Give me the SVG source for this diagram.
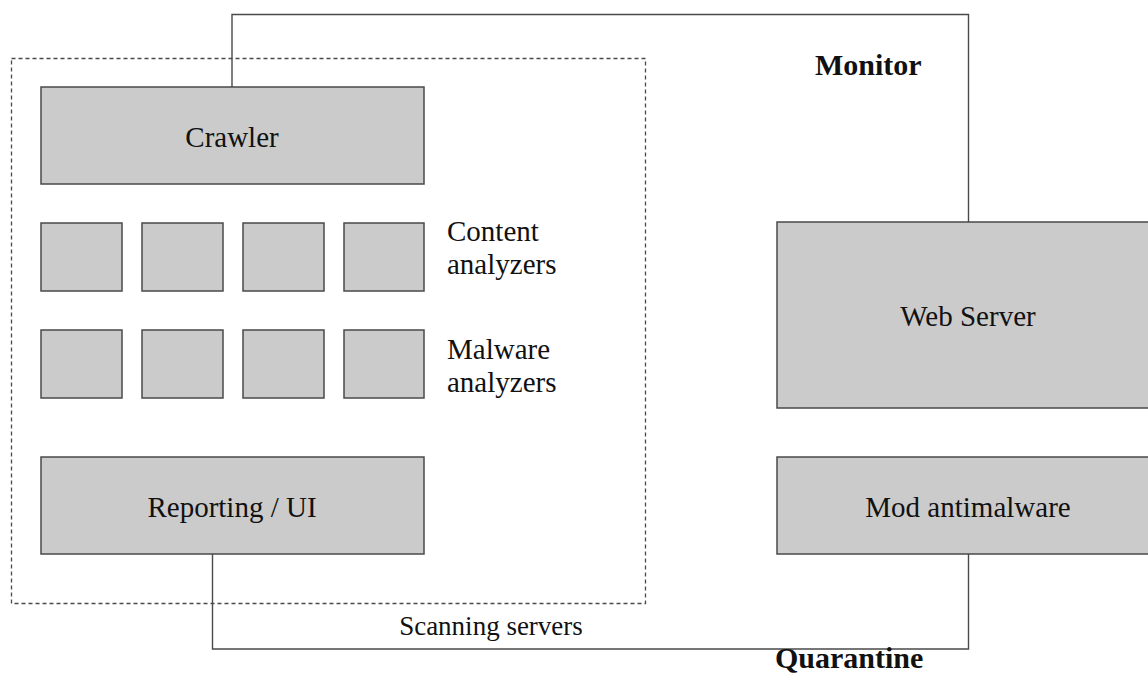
<svg xmlns="http://www.w3.org/2000/svg" width="1148" height="675" viewBox="0 0 1148 675">
  <style>
    .box { fill: #cbcbcb; stroke: #4a4a4a; stroke-width: 1.5; }
    .wire { fill: none; stroke: #4a4a4a; stroke-width: 1.4; }
    .group { fill: none; stroke: #4a4a4a; stroke-width: 1.3; stroke-dasharray: 4 3; }
    .t { font-family: "Liberation Serif", "Times New Roman", serif; font-size: 29px; fill: #111; }
    .c { text-anchor: middle; }
    .b { font-weight: bold; font-size: 30px; }
    .s { font-size: 27px; }
  </style>
  <rect width="1148" height="675" fill="#ffffff"/>

  <g id="scanning-servers">
    <rect class="group" x="11.5" y="58.5" width="634" height="545"/>
    <text class="t s c" x="491" y="635">Scanning servers</text>
  </g>

  <g id="connectors">
    <polyline class="wire" points="232,87 232,14.5 968.5,14.5 968.5,222"/>
    <polyline class="wire" points="212.5,554 212.5,649 968.5,649 968.5,554"/>
  </g>

  <g id="crawler">
    <rect class="box" x="41" y="87" width="383" height="97"/>
    <text class="t c" x="232" y="147">Crawler</text>
  </g>

  <g id="content-analyzers">
    <rect class="box" x="41" y="223" width="81" height="68"/>
    <rect class="box" x="142" y="223" width="81" height="68"/>
    <rect class="box" x="243" y="223" width="81" height="68"/>
    <rect class="box" x="344" y="223" width="80" height="68"/>
    <text class="t" x="447" y="241">Content</text>
    <text class="t" x="447" y="274">analyzers</text>
  </g>

  <g id="malware-analyzers">
    <rect class="box" x="41" y="330" width="81" height="68"/>
    <rect class="box" x="142" y="330" width="81" height="68"/>
    <rect class="box" x="243" y="330" width="81" height="68"/>
    <rect class="box" x="344" y="330" width="80" height="68"/>
    <text class="t" x="447" y="359">Malware</text>
    <text class="t" x="447" y="392">analyzers</text>
  </g>

  <g id="reporting-ui">
    <rect class="box" x="41" y="457" width="383" height="97"/>
    <text class="t c" x="232" y="517">Reporting / UI</text>
  </g>

  <g id="web-server">
    <rect class="box" x="777" y="222" width="383" height="186"/>
    <text class="t c" x="968" y="326">Web Server</text>
  </g>

  <g id="mod-antimalware">
    <rect class="box" x="777" y="457" width="383" height="97"/>
    <text class="t c" x="968" y="517">Mod antimalware</text>
  </g>

  <g id="monitor-label">
    <text class="t b" x="815" y="75">Monitor</text>
  </g>
  <g id="quarantine-label">
    <text class="t b" x="775" y="668">Quarantine</text>
  </g>
</svg>
